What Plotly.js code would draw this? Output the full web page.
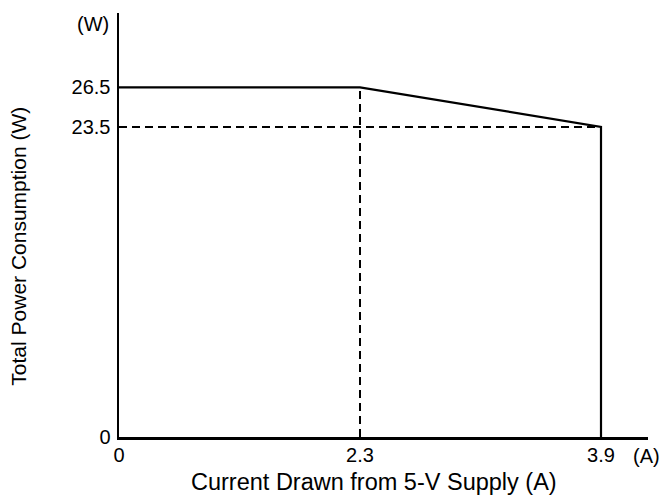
<!DOCTYPE html>
<html>
<head>
<meta charset="utf-8">
<script src="https://cdn.plot.ly/plotly-3.0.1.min.js"></script>
<style>html,body{margin:0;padding:0;background:#fff;}#chart{width:660px;height:495px;}</style>
</head>
<body>
<div id="chart"></div>
<script>
// Data (schematic derating curve)
const xCategories = ['0', '2.3', '3.9'];          // current drawn from 5-V supply (A)
const curveX = ['0', '2.3', '3.9', '3.9'];
const curveY = [26.5, 26.5, 23.5, 0];             // total power consumption (W)
const hGuideX = ['0', '3.9'];
const hGuideY = [23.5, 23.5];
const vGuideX = ['2.3', '2.3'];
const vGuideY = [0, 26.5];
const yTickVals = [0, 23.5, 26.5];
const yTickText = ['0', '23.5', '26.5'];

const FONT = 'Liberation Sans, Arial, Helvetica, sans-serif';

const traces = [
  {x: hGuideX, y: hGuideY, mode: 'lines', line: {color: '#000', width: 2, dash: '8px,5px'}, hoverinfo: 'skip'},
  {x: vGuideX, y: vGuideY, mode: 'lines', line: {color: '#000', width: 2, dash: '8px,5px'}, hoverinfo: 'skip'},
  {x: curveX, y: curveY, mode: 'lines', line: {color: '#000', width: 2.2}, hoverinfo: 'skip'}
];

const layout = {
  width: 660, height: 495,
  margin: {l: 119, r: 12, t: 13, b: 58},
  paper_bgcolor: '#fff', plot_bgcolor: '#fff',
  showlegend: false,
  font: {family: FONT, color: '#000', size: 20},
  xaxis: {
    type: 'category',
    categoryorder: 'array', categoryarray: xCategories,
    range: [0, 2.195],
    showgrid: false, zeroline: false,
    showline: true, linecolor: '#000', linewidth: 2.5,
    ticks: '', ticklabelstandoff: -2,
    tickfont: {family: FONT, size: 20, color: '#000'}
  },
  yaxis: {
    range: [0, 32.13],
    showgrid: false, zeroline: false,
    showline: true, linecolor: '#000', linewidth: 2.5,
    ticks: '', ticklabelstandoff: 2,
    tickmode: 'array', tickvals: yTickVals, ticktext: yTickText,
    tickfont: {family: FONT, size: 20, color: '#000'}
  },
  annotations: [
    {xref: 'paper', yref: 'paper', x: 0.482, y: 0, xanchor: 'center', yanchor: 'middle', yshift: -45,
     text: 'Current Drawn from 5-V Supply (A)', showarrow: false, font: {family: FONT, size: 23.5, color: '#000'}},
    {xref: 'paper', yref: 'paper', x: -0.189, y: 0.449, xanchor: 'center', yanchor: 'middle', textangle: -90,
     text: 'Total Power Consumption (W)', showarrow: false, font: {family: FONT, size: 21, color: '#000'}},
    {xref: 'paper', yref: 'paper', x: -0.05, y: 1.0, xanchor: 'center', yanchor: 'top', yshift: 2,
     text: '(W)', showarrow: false, font: {family: FONT, size: 20, color: '#000'}},
    {xref: 'paper', yref: 'paper', x: 1.0, y: 0, xanchor: 'center', yanchor: 'top', yshift: -6, xshift: -2,
     text: '(A)', showarrow: false, font: {family: FONT, size: 20, color: '#000'}}
  ]
};

Plotly.newPlot('chart', traces, layout, {displayModeBar: false, staticPlot: true});
</script>
</body>
</html>
